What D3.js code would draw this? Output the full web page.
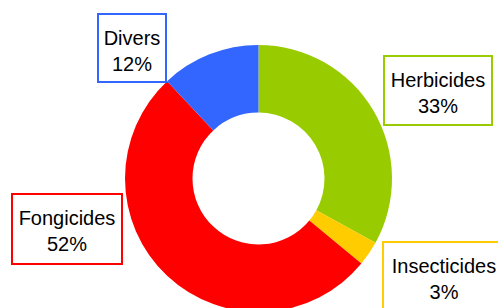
<!DOCTYPE html>
<html><head><meta charset="utf-8">
<script src="https://cdn.jsdelivr.net/npm/d3@7"></script>
<style>html,body{margin:0;padding:0;background:#fff;overflow:hidden}</style>
</head><body>
<svg id="chart" width="498" height="308"></svg>
<script>
const categories = ["Herbicides", "Insecticides", "Fongicides", "Divers"];
const values = [33, 3, 52, 12];
const colors = ["#99CC00", "#FFCC00", "#FF0000", "#3366FF"];

// label box layout (x, y, width, height)
const labelBoxes = [
  {x: 384, y: 56, w: 108, h: 69},
  {x: 383, y: 242, w: 122, h: 80},
  {x: 12, y: 194, w: 110, h: 70},
  {x: 98, y: 14, w: 68, h: 68}
];

const svg = d3.select("#chart");
const cx = 258.5, cy = 178.5, R = 133.5, r = 66;

const pie = d3.pie().sort(null).value(d => d)(values);
const arc = d3.arc().innerRadius(r).outerRadius(R);

svg.append("g").attr("transform", `translate(${cx},${cy})`)
  .selectAll("path").data(pie).join("path")
  .attr("d", arc).attr("fill", (d, i) => colors[i]);

const total = d3.sum(values);
const lg = svg.append("g");
categories.forEach((c, i) => {
  const b = labelBoxes[i];
  lg.append("rect").attr("x", b.x).attr("y", b.y).attr("width", b.w).attr("height", b.h)
    .attr("fill", "#fff").attr("stroke", colors[i]).attr("stroke-width", 2);
  const tx = b.x + b.w / 2;
  const t = lg.append("text").attr("font-family", "'Liberation Sans', Arial, sans-serif")
    .attr("font-size", 20).attr("fill", "#000").attr("text-anchor", "middle");
  t.append("tspan").attr("x", tx).attr("y", b.y + 31).text(c);
  t.append("tspan").attr("x", tx).attr("y", b.y + 57).text(Math.round(values[i] / total * 100) + "%");
});
</script>
</body></html>
